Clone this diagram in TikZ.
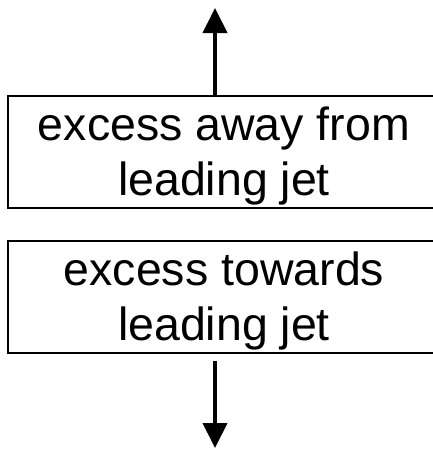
\documentclass[tikz,border=0pt]{standalone}
\usepackage{fontspec}
\setmainfont{Liberation Sans}
\usetikzlibrary{arrows.meta}
\begin{document}
\begin{tikzpicture}[x=1pt,y=-1pt,
  box/.style={draw, line width=2.5pt, minimum width=432pt, minimum height=112pt,
    inner sep=0pt, align=center, font=\fontsize{46.5}{55}\selectfont},
  arr/.style={line width=4pt, -{Triangle[length=25pt,width=24pt]}}]
\useasboundingbox (0,0) rectangle (433,450);
\clip (0,0) rectangle (433,450);
\node[box] (b1) at (224,152) {\rule{0pt}{41pt}excess away from\\leading jet};
\node[box] (b2) at (224,297) {\rule{0pt}{41pt}excess towards\\leading jet};
\coordinate (tipT) at (215,8);
\coordinate (tipB) at (215,448);
\coordinate (s2) at ([yshift=-7pt]b2.south);
\draw[arr] (b1.north -| tipT) -- (tipT);
\draw[arr] (s2 -| tipB) -- (tipB);
\end{tikzpicture}
\end{document}
